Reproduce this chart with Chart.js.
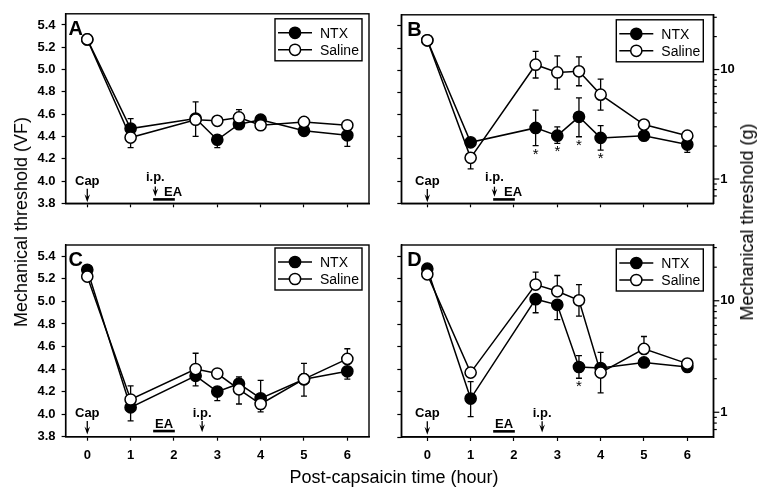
<!DOCTYPE html>
<html>
<head>
<meta charset="utf-8">
<title>Mechanical threshold after capsaicin</title>
<script src="https://cdn.jsdelivr.net/npm/chart.js@4.4.1/dist/chart.umd.min.js"></script>
<style>
  html, body { margin: 0; padding: 0; background: #fff; }
  #wrap { position: relative; width: 758px; height: 491px; overflow: hidden;
          font-family: "Liberation Sans", Arial, sans-serif; color: #000; }
  #wrap canvas { position: absolute; }
  .title { position: absolute; font-size: 18px; line-height: 1; white-space: nowrap;
           transform: translate(-50%, -50%); }
  .rot { transform: translate(-50%, -50%) rotate(-90deg); }
</style>
</head>
<body>
<div id="wrap">
  <canvas id="chartA" width="379" height="230" style="left:0;top:0"></canvas>
  <canvas id="chartB" width="379" height="230" style="left:379px;top:0"></canvas>
  <canvas id="chartC" width="379" height="261" style="left:0;top:230px"></canvas>
  <canvas id="chartD" width="379" height="261" style="left:379px;top:230px"></canvas>
  <div class="title rot" style="left:21px;top:222px">Mechanical threshold (VF)</div>
  <div class="title rot" style="left:747px;top:222px">Mechanical threshold (g)</div>
  <div class="title" style="left:394px;top:477px">Post-capsaicin time (hour)</div>
</div>

<script>
// ===============================
// DATA
// ===============================
const times = [0, 1, 2.5, 3, 3.5, 4, 5, 6];
const hourTicks = [0, 1, 2, 3, 4, 5, 6];
const vfTicks = [3.8, 4.0, 4.2, 4.4, 4.6, 4.8, 5.0, 5.2, 5.4];
const gramTicks = [0.7, 0.8, 0.9, 1, 2, 3, 4, 5, 6, 7, 8, 9, 10, 20, 30];
const gramLabels = [1, 10];
const seriesNames = ["NTX", "Saline"];

// Panel A
const ntxA     = [5.27, 4.47, 4.56, 4.37, 4.51, 4.55, 4.45, 4.41];
const ntxAUp   = [0, 0.09, 0.15, 0, 0, 0.03, 0, 0];
const ntxADown = [0, 0, 0, 0.07, 0, 0, 0, 0.10];
const salA     = [5.27, 4.39, 4.55, 4.54, 4.57, 4.50, 4.53, 4.50];
const salAUp   = [0, 0, 0, 0, 0.07, 0, 0.02, 0.03];
const salADown = [0, 0.09, 0.15, 0, 0, 0, 0, 0];

// Panel B
const ntxB     = [5.27, 4.35, 4.48, 4.41, 4.58, 4.39, 4.41, 4.33];
const ntxBUp   = [0, 0, 0.16, 0.08, 0.17, 0.11, 0, 0];
const ntxBDown = [0, 0, 0.16, 0.07, 0.18, 0.11, 0.04, 0.07];
const salB     = [5.27, 4.21, 5.05, 4.98, 4.99, 4.78, 4.51, 4.41];
const salBUp   = [0, 0, 0.12, 0.15, 0.13, 0.14, 0, 0];
const salBDown = [0, 0.10, 0.12, 0.15, 0.13, 0.14, 0, 0];
const sigB     = [2.5, 3, 3.5, 4];

// Panel C
const ntxC     = [5.28, 4.06, 4.34, 4.20, 4.27, 4.14, 4.31, 4.38];
const ntxCUp   = [0, 0, 0, 0, 0.06, 0.16, 0.14, 0];
const ntxCDown = [0, 0.12, 0.09, 0.08, 0, 0, 0, 0.07];
const salC     = [5.22, 4.13, 4.40, 4.36, 4.22, 4.09, 4.31, 4.49];
const salCUp   = [0, 0.12, 0.14, 0, 0, 0, 0, 0.09];
const salCDown = [0, 0, 0, 0, 0.13, 0.07, 0.15, 0];

// Panel D
const ntxD     = [5.29, 4.14, 5.02, 4.97, 4.42, 4.41, 4.46, 4.42];
const ntxDUp   = [0, 0.15, 0, 0, 0.10, 0.14, 0, 0];
const ntxDDown = [0, 0.16, 0.12, 0.13, 0.10, 0, 0, 0.02];
const salD     = [5.24, 4.37, 5.15, 5.09, 5.01, 4.37, 4.58, 4.45];
const salDUp   = [0, 0, 0.11, 0.14, 0.14, 0, 0.11, 0];
const salDDown = [0, 0, 0, 0, 0.14, 0.18, 0, 0];
const sigD     = [3.5];

// ===============================
// STYLE
// ===============================
const FONT = '"Liberation Sans", Arial, sans-serif';
Chart.defaults.font.family = FONT;
Chart.defaults.color = "#000";

const VF_MIN = 3.8, VF_MAX = 5.5;

// ===============================
// PANEL BUILDER
// ===============================
function series(label, values, fill, order) {
    return {
        label: label,
        data: times.map((t, i) => ({ x: t, y: values[i] })),
        borderColor: "#000",
        borderWidth: 1.5,
        backgroundColor: fill,
        pointRadius: 5.6,
        pointHoverRadius: 5.6,
        pointBackgroundColor: fill,
        pointBorderColor: "#000",
        pointBorderWidth: 1.5,
        tension: 0,
        order: order
    };
}

function drawArrow(ctx, x, yTop, yTip) {
    ctx.beginPath();
    ctx.moveTo(x, yTop);
    ctx.lineTo(x, yTip - 3);
    ctx.stroke();
    ctx.beginPath();
    ctx.moveTo(x - 2.8, yTip - 8);
    ctx.lineTo(x, yTip);
    ctx.lineTo(x + 2.8, yTip - 8);
    ctx.lineTo(x, yTip - 5);
    ctx.closePath();
    ctx.fill();
}

function buildPanel(canvasId, p) {
    const canvas = document.getElementById(canvasId);
    const W = canvas.width, H = canvas.height;

    const extras = {
        id: "extras" + canvasId,

        // error bars sit behind the markers
        beforeDatasetsDraw(chart) {
            const ctx = chart.ctx;
            const xs = chart.scales.x, ys = chart.scales.y;
            ctx.save();
            ctx.strokeStyle = "#000";
            ctx.lineWidth = 1.3;
            p.errors.forEach(s => {
                s.values.forEach((v, i) => {
                    const px = xs.getPixelForValue(times[i]);
                    [[s.up[i], 1], [s.down[i], -1]].forEach(([e, sgn]) => {
                        if (!e) return;
                        const py0 = ys.getPixelForValue(v);
                        const py1 = ys.getPixelForValue(v + sgn * e);
                        ctx.beginPath();
                        ctx.moveTo(px, py0);
                        ctx.lineTo(px, py1);
                        ctx.moveTo(px - 3, py1);
                        ctx.lineTo(px + 3, py1);
                        ctx.stroke();
                    });
                });
            });
            ctx.restore();
        },

        afterDatasetsDraw(chart) {
            const ctx = chart.ctx;
            const area = chart.chartArea;
            const xs = chart.scales.x, ys = chart.scales.y;
            ctx.save();
            ctx.strokeStyle = "#000";
            ctx.fillStyle = "#000";

            // frame
            ctx.lineWidth = 1.4;
            ctx.strokeRect(area.left, area.top, area.right - area.left, area.bottom - area.top);

            // right log axis ticks (g)
            if (p.logAxis) {
                const s = chart.scales.y1;
                ctx.lineWidth = 1.2;
                gramTicks.forEach(v => {
                    const py = s.getPixelForValue(v);
                    const len = gramLabels.includes(v) ? 6 : 3.5;
                    ctx.beginPath();
                    ctx.moveTo(area.right, py);
                    ctx.lineTo(area.right + len, py);
                    ctx.stroke();
                });
            }

            // panel letter
            ctx.font = "bold 20px " + FONT;
            ctx.textAlign = "left";
            ctx.textBaseline = "alphabetic";
            ctx.fillText(p.letter, area.left + p.letterDx, area.top + 21);

            // event annotations
            ctx.font = "bold 13px " + FONT;
            ctx.textAlign = "center";
            ctx.textBaseline = "middle";
            ctx.lineWidth = 1.3;
            p.marks.forEach(m => {
                const px = xs.getPixelForValue(m.x);
                ctx.fillText(m.text, px, ys.getPixelForValue(m.textY));
                if (m.arrowTop) {
                    drawArrow(ctx, px, ys.getPixelForValue(m.arrowTop), ys.getPixelForValue(m.arrowTip));
                }
            });
            const ea = p.ea;
            ctx.fillText("EA", xs.getPixelForValue(ea.textX), ys.getPixelForValue(ea.textY));
            ctx.lineWidth = 2.6;
            ctx.beginPath();
            ctx.moveTo(xs.getPixelForValue(ea.x0), ys.getPixelForValue(ea.barY));
            ctx.lineTo(xs.getPixelForValue(ea.x1), ys.getPixelForValue(ea.barY));
            ctx.stroke();

            // significance stars under NTX error bars
            const ntx = p.errors[0];
            ctx.font = "15px " + FONT;
            ctx.textBaseline = "alphabetic";
            p.sig.forEach(t => {
                const i = times.indexOf(t);
                const py = ys.getPixelForValue(ntx.values[i] - ntx.down[i]) + 4;
                ctx.fillText("*", xs.getPixelForValue(t), py + 9);
            });

            // legend
            const bw = 87, bh = 42;
            const bx = area.right - p.legendDx - bw, by = area.top + p.legendDy;
            ctx.fillStyle = "#fff";
            ctx.fillRect(bx, by, bw, bh);
            ctx.lineWidth = 1.4;
            ctx.strokeRect(bx, by, bw, bh);
            ctx.font = "14px " + FONT;
            ctx.textAlign = "left";
            ctx.textBaseline = "middle";
            chart.data.datasets.forEach((ds, k) => {
                const ry = by + 14 + k * 17;
                ctx.strokeStyle = "#000";
                ctx.lineWidth = 1.5;
                ctx.beginPath();
                ctx.moveTo(bx + 3, ry);
                ctx.lineTo(bx + 37, ry);
                ctx.stroke();
                ctx.beginPath();
                ctx.arc(bx + 20, ry, 5.6, 0, Math.PI * 2);
                ctx.fillStyle = ds.pointBackgroundColor;
                ctx.fill();
                ctx.stroke();
                ctx.fillStyle = "#000";
                ctx.fillText(ds.label, bx + 45, ry + 1);
            });

            ctx.restore();
        }
    };

    const tickFont = { family: FONT, size: 13, weight: "bold" };

    const scales = {
        x: {
            type: "linear",
            min: p.xMin,
            max: p.xMax,
            afterBuildTicks: s => { s.ticks = hourTicks.map(v => ({ value: v })); },
            afterFit: s => { s.height = H - p.bottom; },
            grid: { display: true, drawOnChartArea: false, drawTicks: true, tickLength: 4, tickColor: "#000", tickWidth: 1.2 },
            border: { display: true, color: "#000", width: 1.4 },
            ticks: {
                autoSkip: false, maxRotation: 0, padding: 7, color: "#000", font: tickFont,
                callback: v => (p.xLabels ? String(v) : "")
            }
        },
        y: {
            type: "linear",
            position: "left",
            min: VF_MIN,
            max: VF_MAX,
            afterBuildTicks: s => { s.ticks = vfTicks.map(v => ({ value: v })); },
            afterFit: s => { s.width = p.left; },
            grid: { display: true, drawOnChartArea: false, drawTicks: true, tickLength: 4, tickColor: "#000", tickWidth: 1.2 },
            border: { display: true, color: "#000", width: 1.4 },
            ticks: {
                autoSkip: false, padding: 6, color: "#000", font: tickFont,
                callback: v => (p.yLabels ? v.toFixed(1) : "")
            }
        }
    };

    if (p.logAxis) {
        // same values expressed in grams: VF = log10(g) + 4
        scales.y1 = {
            type: "logarithmic",
            position: "right",
            min: Math.pow(10, VF_MIN - 4),
            max: Math.pow(10, VF_MAX - 4),
            afterBuildTicks: s => { s.ticks = gramTicks.map(v => ({ value: v })); },
            afterFit: s => { s.width = W - p.right; },
            grid: { display: false, drawTicks: false },
            border: { display: true, color: "#000", width: 1.4 },
            ticks: {
                autoSkip: false, padding: 7, color: "#000", font: tickFont,
                callback: v => (gramLabels.includes(v) ? String(v) : "")
            }
        };
    }

    return new Chart(canvas, {
        type: "line",
        data: {
            datasets: [
                series(seriesNames[0], p.errors[0].values, "#000", 1),
                series(seriesNames[1], p.errors[1].values, "#fff", 0)
            ]
        },
        options: {
            responsive: false,
            animation: false,
            events: [],
            layout: { padding: { top: p.top, left: 0, bottom: 0, right: p.logAxis ? 0 : W - p.right } },
            plugins: { legend: { display: false }, tooltip: { enabled: false } },
            scales: scales
        },
        plugins: [extras]
    });
}

// ===============================
// ANNOTATIONS (event markers)
// ===============================
const marksTop = ip => [
    { text: "Cap", x: 0, textY: 4.0, arrowTop: 3.93, arrowTip: 3.81 },
    { text: "i.p.", x: ip, textY: 4.03, arrowTop: 3.95, arrowTip: 3.86 }
];
const marksBottom = [
    { text: "Cap", x: 0, textY: 4.01, arrowTop: 3.94, arrowTip: 3.82 },
    { text: "i.p.", x: 2.65, textY: 4.01, arrowTop: 3.94, arrowTip: 3.84 }
];
const eaTop = { x0: 1.52, x1: 2.02, barY: 3.835, textX: 1.98, textY: 3.9 };
const eaBottom = { x0: 1.52, x1: 2.02, barY: 3.85, textX: 1.77, textY: 3.91 };

// ===============================
// DRAW
// ===============================
buildPanel("chartA", {
    letter: "A", letterDx: 3, left: 65.6, right: 369, top: 12, bottom: 203.3,
    xMin: -0.5, xMax: 6.5, xLabels: false, yLabels: true, logAxis: false,
    legendDx: 7, legendDy: 5, marks: marksTop(1.57), ea: eaTop, sig: [],
    errors: [
        { values: ntxA, up: ntxAUp, down: ntxADown },
        { values: salA, up: salAUp, down: salADown }
    ]
});

buildPanel("chartB", {
    letter: "B", letterDx: 6, left: 22.3, right: 334.3, top: 12, bottom: 203.3,
    xMin: -0.6, xMax: 6.6, xLabels: false, yLabels: false, logAxis: true,
    legendDx: 10, legendDy: 5, marks: marksTop(1.55), ea: eaTop, sig: sigB,
    errors: [
        { values: ntxB, up: ntxBUp, down: ntxBDown },
        { values: salB, up: salBUp, down: salBDown }
    ]
});

buildPanel("chartC", {
    letter: "C", letterDx: 3, left: 65.6, right: 369, top: 15, bottom: 206.7,
    xMin: -0.5, xMax: 6.5, xLabels: true, yLabels: true, logAxis: false,
    legendDx: 7, legendDy: 3, marks: marksBottom, ea: eaBottom, sig: [],
    errors: [
        { values: ntxC, up: ntxCUp, down: ntxCDown },
        { values: salC, up: salCUp, down: salCDown }
    ]
});

buildPanel("chartD", {
    letter: "D", letterDx: 6, left: 22.3, right: 334.3, top: 15, bottom: 207,
    xMin: -0.6, xMax: 6.6, xLabels: true, yLabels: false, logAxis: true,
    legendDx: 10, legendDy: 4, marks: marksBottom, ea: eaBottom, sig: sigD,
    errors: [
        { values: ntxD, up: ntxDUp, down: ntxDDown },
        { values: salD, up: salDUp, down: salDDown }
    ]
});
</script>
</body>
</html>
